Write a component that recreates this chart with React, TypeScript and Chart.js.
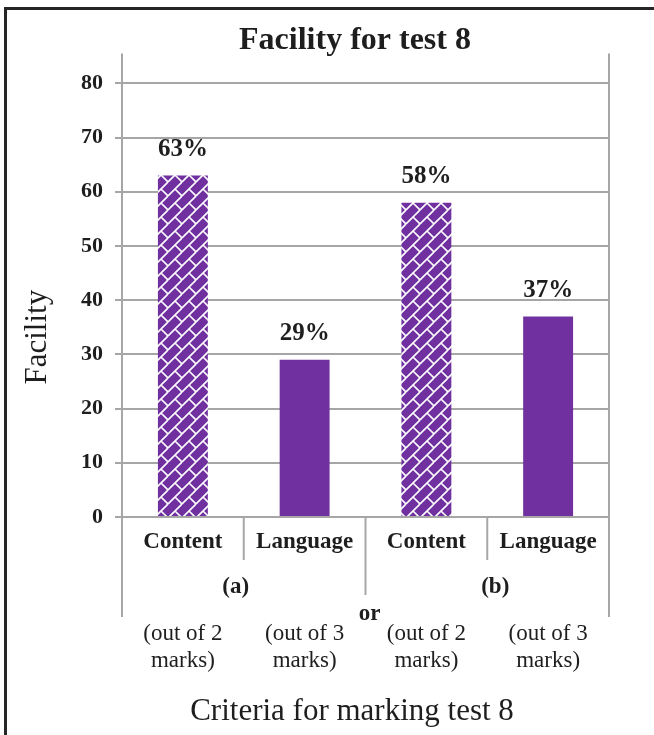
import React, { useEffect, useRef } from 'react';
import { Chart, registerables } from 'chart.js';

Chart.register(...registerables);

// ---- data ----
const categories = ['Content', 'Language', 'Content', 'Language'];
const groupLabels = ['(a)', '(b)'];
const groupSizes = [2, 2];
const criteriaNotes = [
  ['(out of 2', 'marks)'],
  ['(out of 3', 'marks)'],
  ['(out of 2', 'marks)'],
  ['(out of 3', 'marks)'],
];
const facility = [63, 29, 58, 37];
const patterned = [true, false, true, false];
const yMin = 0;
const yMax = 80;
const yStep = 10;
const joinerWord = 'or';
const chartTitle = 'Facility for test 8';
const xAxisTitle = 'Criteria for marking test 8';
const yAxisTitle = 'Facility';

// ---- style ----
const SERIF = "'Liberation Serif', 'Times New Roman', Times, serif";
const GRID = '#a6a6a6';
const INK = '#1e1e1e';
const PURPLE = '#7030a0';

function makeBrickPattern(): CanvasPattern | string {
  const T = 14;
  const c = document.createElement('canvas');
  c.width = T;
  c.height = T;
  const g = c.getContext('2d');
  if (!g) return PURPLE;
  g.fillStyle = PURPLE;
  g.fillRect(0, 0, T, T);
  g.strokeStyle = '#ffffff';
  g.lineWidth = 1.6;
  g.beginPath();
  g.moveTo(-2, T + 2);
  g.lineTo(T + 2, -2);
  g.moveTo(T / 2, T / 2);
  g.lineTo(T + 1, T + 1);
  g.moveTo(-1, -1);
  g.lineTo(0.5, 0.5);
  g.stroke();
  const p = g.createPattern(c, 'repeat');
  return p || PURPLE;
}

const decorPlugin = {
  id: 'decor',
  afterDatasetsDraw(chart: any) {
    const { ctx } = chart;
    const meta = chart.getDatasetMeta(0);
    ctx.save();
    ctx.fillStyle = INK;
    ctx.font = `bold 25px ${SERIF}`;
    ctx.textAlign = 'center';
    ctx.textBaseline = 'middle';
    meta.data.forEach((bar: any, i: number) => {
      ctx.fillText(`${facility[i]}%`, bar.x, bar.y - 26);
    });
    ctx.restore();
  },
  afterDraw(chart: any) {
    const { ctx, chartArea: ca, scales } = chart;
    const xs = scales.x;
    const centers = categories.map((_, i) => xs.getPixelForValue(i));
    const step = centers.length > 1 ? centers[1] - centers[0] : ca.right - ca.left;
    ctx.save();
    ctx.strokeStyle = GRID;
    ctx.lineWidth = 2;
    const vline = (px: number, y0: number, y1: number) => {
      ctx.beginPath();
      ctx.moveTo(px, y0);
      ctx.lineTo(px, y1);
      ctx.stroke();
    };
    vline(ca.left, ca.top - 30, ca.bottom + 100);
    vline(ca.right, ca.top - 30, ca.bottom + 100);
    let idx = 0;
    const groupCenters: number[] = [];
    const groupBounds: number[] = [];
    groupSizes.forEach((n, g) => {
      for (let k = 1; k < n; k++) vline(centers[idx + k] - step / 2, ca.bottom, ca.bottom + 43);
      groupCenters.push((centers[idx] + centers[idx + n - 1]) / 2);
      idx += n;
      if (g < groupSizes.length - 1) {
        const b = centers[idx] - step / 2;
        groupBounds.push(b);
        vline(b, ca.bottom, ca.bottom + 78);
      }
    });

    ctx.fillStyle = INK;
    ctx.textAlign = 'center';
    ctx.textBaseline = 'middle';
    // category labels
    ctx.font = `bold 23px ${SERIF}`;
    categories.forEach((c, i) => ctx.fillText(c, centers[i], ca.bottom + 25));
    // group labels (pushed slightly outward, as in the original)
    const mid = (ca.left + ca.right) / 2;
    groupLabels.forEach((g, i) => {
      const gx = groupCenters[i] + (groupCenters[i] < mid ? -8 : 8);
      ctx.fillText(g, gx, ca.bottom + 70);
    });
    groupBounds.forEach((b) => ctx.fillText(joinerWord, b + 4, ca.bottom + 97));
    // notes
    ctx.font = `23px ${SERIF}`;
    criteriaNotes.forEach((lines, i) => {
      lines.forEach((ln, j) => ctx.fillText(ln, centers[i], ca.bottom + 117 + j * 27));
    });
    // x title, centred on the whole chart block like the main title
    const tb = chart.titleBlock;
    const cx = tb ? (tb.left + tb.right) / 2 : chart.width / 2;
    ctx.font = `31px ${SERIF}`;
    ctx.fillText(xAxisTitle, cx - 3, ca.bottom + 195);
    // y title
    ctx.translate(ca.left - 84, (ca.top + ca.bottom) / 2 + 37);
    ctx.rotate(-Math.PI / 2);
    ctx.font = `31px ${SERIF}`;
    ctx.fillText(yAxisTitle, 0, 0);
    ctx.restore();
  },
};

export default function App() {
  const ref = useRef<HTMLCanvasElement | null>(null);

  useEffect(() => {
    const canvas = ref.current;
    if (!canvas) return;
    const brick = makeBrickPattern();
    const chart = new Chart(canvas, {
      type: 'bar',
      data: {
        labels: categories,
        datasets: [
          {
            data: facility,
            yAxisID: 'y',
            backgroundColor: patterned.map((p) => (p ? brick : PURPLE)) as any,
            borderWidth: 0,
            categoryPercentage: 1,
            barPercentage: 0.41,
          },
        ],
      },
      options: {
        responsive: false,
        animation: false,
        devicePixelRatio: 1,
        layout: { padding: 0 },
        plugins: {
          legend: { display: false },
          tooltip: { enabled: false },
          title: {
            display: true,
            text: chartTitle,
            color: INK,
            font: { family: SERIF, size: 32, weight: 'bold' },
            padding: { top: 22, bottom: 23 },
          },
        },
        scales: {
          x: {
            ticks: { display: false },
            grid: { display: false },
            border: { display: false },
            afterFit: (scale: any) => {
              scale.height = 218;
            },
          },
          y: {
            min: yMin,
            max: yMax,
            ticks: {
              stepSize: yStep,
              color: INK,
              font: { family: SERIF, size: 22, weight: 'bold' },
              padding: 12,
            },
            grid: { color: GRID, lineWidth: 2, tickLength: 7 },
            border: { display: true, color: GRID, width: 2 },
            afterFit: (scale: any) => {
              scale.width = 122;
            },
          },
          // empty spacer on the right: the original frame continues past the crop
          yRight: {
            type: 'linear',
            position: 'right',
            min: yMin,
            max: yMax,
            ticks: { display: false },
            grid: { display: false },
            border: { display: false },
            afterFit: (scale: any) => {
              scale.width = 101;
            },
          },
        },
      },
      plugins: [decorPlugin],
    });
    return () => chart.destroy();
  }, []);

  return (
    <div
      style={{
        position: 'absolute',
        left: 0,
        top: 0,
        width: 654,
        height: 735,
        overflow: 'hidden',
        background: '#ffffff',
      }}
    >
      <canvas ref={ref} width={710} height={735} style={{ position: 'absolute', left: 0, top: 0 }} />
      <div
        style={{
          position: 'absolute',
          left: 4,
          top: 7,
          width: 800,
          height: 900,
          borderLeft: '3px solid #262626',
          borderTop: '3px solid #262626',
          pointerEvents: 'none',
        }}
      />
    </div>
  );
}
